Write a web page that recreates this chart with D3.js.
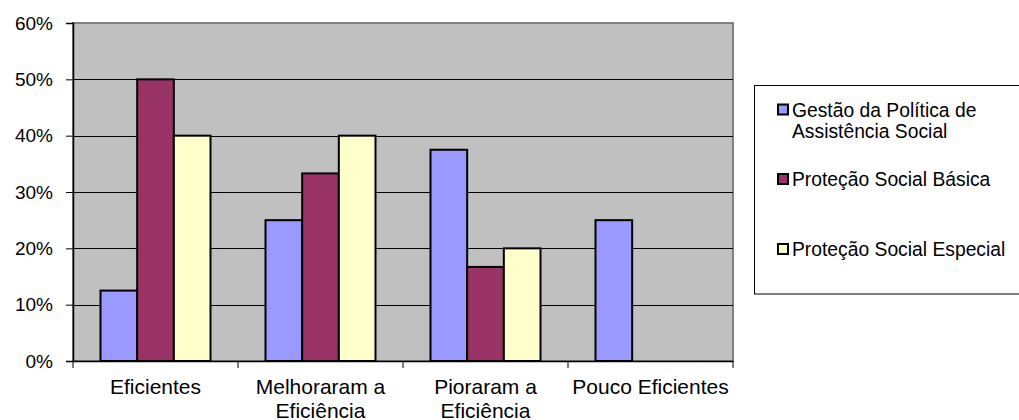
<!DOCTYPE html>
<html>
<head>
<meta charset="utf-8">
<script src="https://cdn.jsdelivr.net/npm/d3@7/dist/d3.min.js"></script>
<style>
  html, body { margin: 0; padding: 0; background: #fff; }
  svg { display: block; font-family: "Liberation Sans", Arial, sans-serif; }
</style>
</head>
<body>
<svg id="chart" width="1019" height="420"></svg>
<script>
const categories = [["Eficientes"], ["Melhoraram a", "Eficiência"], ["Pioraram a", "Eficiência"], ["Pouco Eficientes"]];
const categoryKeys = ["Eficientes", "Melhoraram a Eficiência", "Pioraram a Eficiência", "Pouco Eficientes"];
const seriesNames = ["Gestão da Política de Assistência Social", "Proteção Social Básica", "Proteção Social Especial"];
const legendLines = [["Gestão da Política de", "Assistência Social"], ["Proteção Social Básica"], ["Proteção Social Especial"]];
const gestao   = [0.125, 0.25, 0.375, 0.25];
const basica   = [0.50, 0.333, 0.167, 0];
const especial = [0.40, 0.40, 0.20, 0];
const yTicks = [0, 0.1, 0.2, 0.3, 0.4, 0.5, 0.6];
const colors = ["#9999FF", "#993366", "#FFFFCC"];

const seriesValues = [gestao, basica, especial];
const svg = d3.select("#chart");
const pLeft = 73, pRight = 733, pTop = 23, pBottom = 361;

const x0 = d3.scaleBand().domain(categoryKeys).range([pLeft, pRight]).paddingInner(0).paddingOuter(0);
const x1 = d3.scaleBand().domain(seriesNames).range([0, x0.bandwidth()]).paddingInner(0).paddingOuter(0.75);
const y = d3.scaleLinear().domain([0, 0.6]).range([pBottom, pTop]);

// plot background
svg.append("rect").attr("x", pLeft).attr("y", pTop).attr("width", pRight - pLeft).attr("height", pBottom - pTop)
  .attr("fill", "#C0C0C0").attr("stroke", "#808080").attr("stroke-width", 2);

// gridlines
svg.append("g").selectAll("line").data(yTicks.filter(t => t > 0 && t < 0.6)).join("line")
  .attr("x1", pLeft).attr("x2", pRight)
  .attr("y1", d => Math.round(y(d)) + 0.5).attr("y2", d => Math.round(y(d)) + 0.5)
  .attr("stroke", "#000").attr("stroke-width", 1);

// bars
const g = svg.append("g");
seriesNames.forEach((s, si) => {
  g.append("g").selectAll("rect").data(categoryKeys.map((c, ci) => ({c, v: seriesValues[si][ci]})).filter(d => d.v > 0))
    .join("rect")
    .attr("x", d => x0(d.c) + x1(s))
    .attr("y", d => y(d.v))
    .attr("width", x1.bandwidth())
    .attr("height", d => y(0) - y(d.v))
    .attr("fill", colors[si])
    .attr("stroke", "#000")
    .attr("stroke-width", 2);
});

// y axis
const yAxis = d3.axisLeft(y).tickValues(yTicks).tickFormat(d3.format(".0%")).tickSize(7).tickPadding(13);
const ya = svg.append("g").attr("transform", `translate(${pLeft},0)`).call(yAxis);
ya.select(".domain").attr("stroke", "#000").attr("stroke-width", 1.5);
ya.selectAll(".tick line").attr("stroke", "#000");
ya.selectAll(".tick text").attr("font-size", 19).attr("fill", "#000").attr("font-family", "Liberation Sans, Arial, sans-serif");

// x axis
const xa = svg.append("g").attr("transform", `translate(0,${pBottom})`)
  .call(d3.axisBottom(x0).tickSize(0).tickFormat(""));
xa.select(".domain").attr("stroke", "#000").attr("stroke-width", 1.5);
const bounds = categoryKeys.map(c => x0(c)).concat([pRight]);
svg.append("g").selectAll("line").data(bounds).join("line")
  .attr("x1", d => d).attr("x2", d => d).attr("y1", pBottom).attr("y2", pBottom + 7)
  .attr("stroke", "#000");
const xl = svg.append("g").selectAll("text").data(categoryKeys).join("text")
  .attr("x", d => x0(d) + x0.bandwidth() / 2)
  .attr("y", 394)
  .attr("text-anchor", "middle")
  .attr("font-size", 21)
  .attr("fill", "#000");
xl.each(function(d, i) {
  d3.select(this).selectAll("tspan").data(categories[i]).join("tspan")
    .attr("x", x0(d) + x0.bandwidth() / 2)
    .attr("dy", (t, j) => j === 0 ? 0 : 24)
    .text(t => t);
});

// legend
const lg = svg.append("g");
lg.append("rect").attr("x", 754.5).attr("y", 85.5).attr("width", 280).attr("height", 208.5)
  .attr("fill", "#fff").attr("stroke", "#000").attr("stroke-width", 1);
const baselines = [116.5, 186, 256];
seriesNames.forEach((s, i) => {
  lg.append("rect").attr("x", 778).attr("y", baselines[i] - 12).attr("width", 10).attr("height", 10)
    .attr("fill", colors[i]).attr("stroke", "#000").attr("stroke-width", 2);
  const t = lg.append("text").attr("x", 792).attr("y", baselines[i]).attr("font-size", 19.3).attr("fill", "#000");
  t.selectAll("tspan").data(legendLines[i]).join("tspan")
    .attr("x", 792).attr("dy", (d, j) => j === 0 ? 0 : 21).text(d => d);
});
</script>
</body>
</html>
